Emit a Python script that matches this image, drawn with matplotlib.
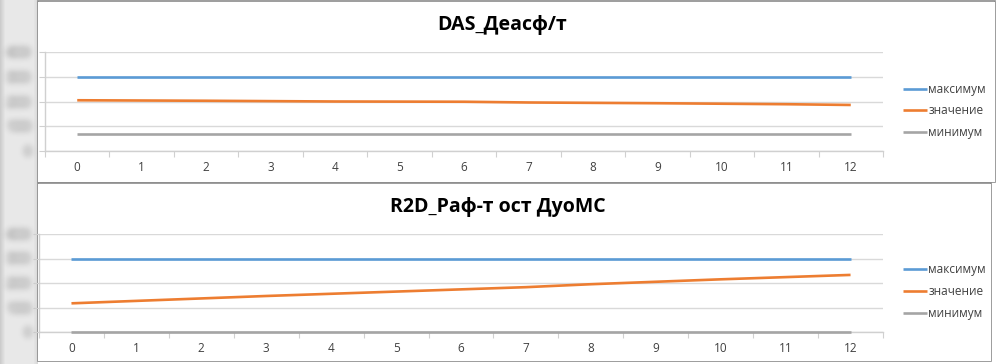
import numpy as np
import matplotlib
matplotlib.use("Agg")
import matplotlib.pyplot as plt
from matplotlib.patches import Rectangle

plt.rcParams['font.family'] = ['Open Sans', 'DejaVu Sans']

categories = list(range(13))
labels = ["максимум", "значение", "минимум"]

title_top = "DAS_Деасф/т"
top_max = [3000] * 13
top_val = [2050, 2040, 2030, 2015, 2000, 1995, 1990, 1960, 1945, 1930, 1910, 1890, 1860]
top_min = [700] * 13
top_yticks = [0, 1000, 2000, 3000, 4000]

title_bot = "R2D_Раф-т ост ДуоМС"
bot_max = [3000] * 13
bot_val = [1170, 1270, 1370, 1470, 1560, 1650, 1740, 1830, 1950, 2050, 2150, 2240, 2330]
bot_min = [0] * 13
bot_yticks = [0, 1000, 2000, 3000, 4000]

colors = ["#5B9BD5", "#ED7D31", "#A5A5A5"]

W, H = 998, 364
fig = plt.figure(figsize=(W / 100, H / 100), dpi=100)
fig.patch.set_facecolor("white")


def px(x0, y0, x1, y1):
    return [x0 / W, 1 - y1 / H, (x1 - x0) / W, (y1 - y0) / H]


# background strip on the left
bg = fig.add_axes([0, 0, 1, 1], zorder=-5)
bg.set_xlim(0, W)
bg.set_ylim(H, 0)
bg.axis("off")
prof = np.ones(W)
prof[:38] = 0.91
prof[:6] = np.linspace(0.80, 0.91, 6)
prof[33:38] = np.linspace(0.91, 0.84, 5)
img = np.tile(prof, (H, 1))
bg.imshow(img, cmap="gray", vmin=0, vmax=1, extent=[0, W, H, 0], aspect="auto")
bg.add_patch(Rectangle((38, 1), 957, 181, fill=False, ec="#8c8c8c", lw=1.2))
bg.add_patch(Rectangle((38, 183), 953, 178, fill=False, ec="#8c8c8c", lw=1.2))
bg.add_patch(Rectangle((38, 1.5), 957, 180, fc="white", ec="none"))
bg.add_patch(Rectangle((38, 183.5), 953, 177, fc="white", ec="none"))


def blur(im, dpi):
    pad = 12
    s = 3.3
    h, w, c = im.shape
    out = np.zeros((h + 2 * pad, w + 2 * pad, c), dtype=float)
    out[pad:pad + h, pad:pad + w] = im
    k = np.exp(-np.arange(-pad, pad + 1) ** 2 / (2 * s * s))
    k /= k.sum()
    tmp = np.zeros_like(out)
    for i, kv in enumerate(k):
        tmp += kv * np.roll(out, i - pad, axis=0)
    res = np.zeros_like(out)
    for i, kv in enumerate(k):
        res += kv * np.roll(tmp, i - pad, axis=1)
    return res, -pad, -pad


def make_panel(rect, title, title_xy, maxv, val, minv, yticks, leg_y, ypad):
    ax = fig.add_axes(rect)
    ax.plot(categories, maxv, color=colors[0], lw=1.9, label=labels[0], solid_capstyle="butt", zorder=3)
    ax.plot(categories, val, color=colors[1], lw=1.9, label=labels[1], solid_capstyle="butt", zorder=3)
    ax.plot(categories, minv, color=colors[2], lw=1.9, label=labels[2], solid_capstyle="butt", zorder=3, clip_on=False)
    ax.set_xlim(-0.5, 12.5)
    ax.set_ylim(yticks[0], yticks[-1])
    ax.set_yticks(yticks)
    ax.set_yticklabels([str(t) for t in yticks])
    ax.grid(axis="y", color="#d9d9d9", lw=1)
    ax.set_axisbelow(True)
    for sp in ["top", "right"]:
        ax.spines[sp].set_visible(False)
    for sp in ["left", "bottom"]:
        ax.spines[sp].set_color("#d0d0d0")
        ax.spines[sp].set_linewidth(1)
    ax.set_xticks(np.arange(-0.5, 13, 1))
    ax.set_xticklabels([])
    ax.set_xticks(categories, minor=True)
    ax.set_xticklabels([str(c) for c in categories], minor=True)
    ax.tick_params(axis="x", which="major", length=4, color="#d0d0d0")
    ax.tick_params(axis="x", which="minor", length=0, pad=7, labelsize=8.5, labelcolor="#404040")
    ax.tick_params(axis="y", length=4, color="#d0d0d0", labelsize=7.5, labelcolor="#6a6a6a", pad=ypad)
    for t in ax.get_yticklabels():
        t.set_agg_filter(blur)
        t.set_clip_on(False)
    fig.text(title_xy[0] / W, 1 - title_xy[1] / H, title, ha="center", va="center",
             fontsize=14, fontweight="bold", color="#000000")
    fig.legend(handles=ax.get_lines(), loc="center left",
               bbox_to_anchor=(903 / W, 1 - leg_y / H), frameon=False, fontsize=8.5,
               handlelength=2.0, handletextpad=0.15, borderpad=0, borderaxespad=0,
               labelspacing=0.75, labelcolor="#404040")
    return ax


make_panel(px(45, 52, 883, 151), title_top, (502, 25), top_max, top_val, top_min, top_yticks, 111, 6.5)
make_panel(px(39, 234, 883, 332), title_bot, (498, 207), bot_max, bot_val, bot_min, bot_yticks, 291.5, 2.2)

fig.savefig("out.png", dpi=100, facecolor=fig.get_facecolor())
